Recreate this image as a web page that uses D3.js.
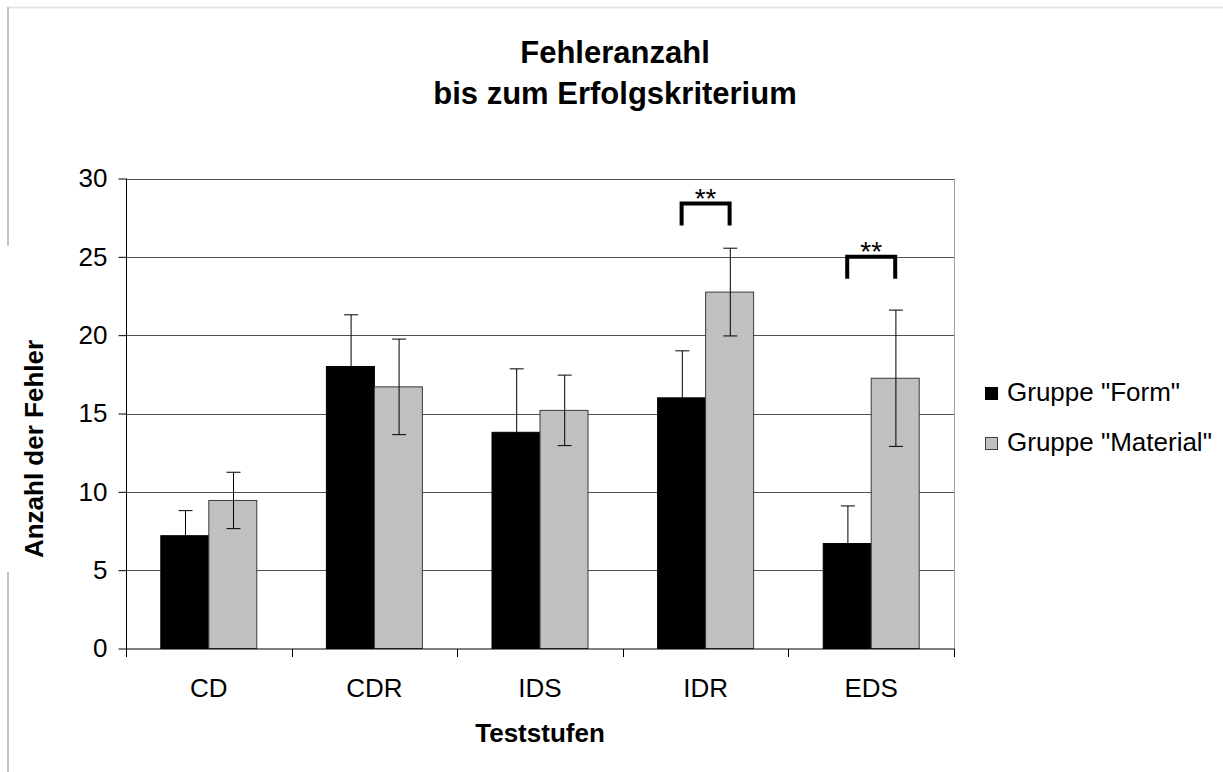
<!DOCTYPE html>
<html>
<head>
<meta charset="utf-8">
<script src="https://cdn.jsdelivr.net/npm/d3@7"></script>
<style>
  html, body { margin: 0; padding: 0; background: #fff; }
  svg { display: block; font-family: "Liberation Sans", Arial, sans-serif; }
</style>
</head>
<body>
<svg id="chart" width="1223" height="772"></svg>
<script>
// Test levels and mean error counts per group
const categories = ["CD", "CDR", "IDS", "IDR", "EDS"];
const seriesNames = ["Gruppe \"Form\"", "Gruppe \"Material\""];
const formValues = [7.2, 18.0, 13.8, 16.0, 6.7];
const formErrors = [1.6, 3.3, 4.05, 3.0, 2.4];
const materialValues = [9.45, 16.7, 15.2, 22.75, 17.25];
const materialErrors = [1.8, 3.05, 2.25, 2.8, 4.35];
const yTicks = [0, 5, 10, 15, 20, 25, 30];

// Significance brackets (between the two groups of a test level)
const sigCategories = ["IDR", "EDS"];
const sigTop = [28.4, 25.0];
const sigBottom = [27.0, 23.6];
const sigLabels = ["**", "**"];

const colors = ["#000000", "#c0c0c0"];

const svg = d3.select("#chart");
const plot = { left: 126, right: 954, top: 178.5, bottom: 648.5 };
const FONT = 26;

// faint frame lines of the surrounding page
svg.append("line").attr("x1", 7).attr("x2", 1223).attr("y1", 7.5).attr("y2", 7.5)
  .attr("stroke", "#e6e6e6").attr("stroke-width", 2);
svg.append("line").attr("x1", 8).attr("x2", 8).attr("y1", 7).attr("y2", 246)
  .attr("stroke", "#c4c4c4").attr("stroke-width", 2);
svg.append("line").attr("x1", 8).attr("x2", 8).attr("y1", 572).attr("y2", 772)
  .attr("stroke", "#c4c4c4").attr("stroke-width", 2);

const x0 = d3.scaleBand().domain(categories).range([plot.left, plot.right]).padding(0);
const x1 = d3.scaleBand().domain([0, 1]).range([0, x0.bandwidth()])
  .paddingInner(0).paddingOuter(0.725);
const y = d3.scaleLinear().domain([0, 30]).range([plot.bottom, plot.top]);

// gridlines
svg.append("g").selectAll("line").data(yTicks.filter(t => t > 0)).join("line")
  .attr("x1", plot.left).attr("x2", plot.right)
  .attr("y1", d => Math.round(y(d)) + 0.5).attr("y2", d => Math.round(y(d)) + 0.5)
  .attr("stroke", "#505050").attr("stroke-width", 1);
// right edge of plot area
svg.append("line").attr("x1", plot.right + 0.5).attr("x2", plot.right + 0.5)
  .attr("y1", plot.top).attr("y2", plot.bottom)
  .attr("stroke", "#a0a0a0").attr("stroke-width", 1);

const rows = categories.map((c, i) => ({
  cat: c,
  vals: [
    { s: 0, v: formValues[i], e: formErrors[i] },
    { s: 1, v: materialValues[i], e: materialErrors[i] }
  ]
}));

const groups = svg.append("g").selectAll("g").data(rows).join("g")
  .attr("transform", d => `translate(${x0(d.cat)},0)`);

groups.selectAll("rect").data(d => d.vals).join("rect")
  .attr("x", d => x1(d.s))
  .attr("y", d => y(d.v))
  .attr("width", x1.bandwidth())
  .attr("height", d => y(0) - y(d.v))
  .attr("fill", d => colors[d.s])
  .attr("stroke", d => d.s === 0 ? "#000" : "#3a3a3a")
  .attr("stroke-width", 1);

// error bars
const capHalf = 7;
const eb = groups.selectAll("g.err").data(d => d.vals).join("g").attr("class", "err")
  .attr("transform", d => `translate(${Math.round(x1(d.s) + x1.bandwidth() / 2) + 0.5},0)`);
eb.append("line").attr("x1", 0).attr("x2", 0)
  .attr("y1", d => y(d.v + d.e)).attr("y2", d => y(d.v - d.e))
  .attr("stroke", "#000").attr("stroke-width", 1);
eb.append("line").attr("x1", -capHalf).attr("x2", capHalf)
  .attr("y1", d => y(d.v + d.e)).attr("y2", d => y(d.v + d.e))
  .attr("stroke", "#000").attr("stroke-width", 1);
eb.append("line").attr("x1", -capHalf).attr("x2", capHalf)
  .attr("y1", d => y(d.v - d.e)).attr("y2", d => y(d.v - d.e))
  .attr("stroke", "#000").attr("stroke-width", 1);

// y axis
const yAxis = d3.axisLeft(y).tickValues(yTicks).tickSize(8).tickPadding(11);
const gy = svg.append("g").attr("transform", `translate(${plot.left + 0.5},0)`).call(yAxis);
gy.select(".domain").attr("stroke", "#000").attr("d", `M0,${plot.top}V${plot.bottom + 8}`);
gy.selectAll(".tick line").attr("stroke", "#000");
gy.selectAll(".tick text").attr("font-size", FONT).attr("fill", "#000")
  .attr("font-family", "Liberation Sans, Arial, sans-serif");

// x axis with ticks at category boundaries
const gx = svg.append("g").attr("transform", `translate(0,${plot.bottom + 0.5})`);
gx.append("line").attr("x1", plot.left).attr("x2", plot.right + 1)
  .attr("y1", 0).attr("y2", 0).attr("stroke", "#000");
const boundaries = categories.map(c => x0(c)).concat([plot.right]);
gx.selectAll("line.tk").data(boundaries).join("line").attr("class", "tk")
  .attr("x1", d => Math.round(d) + 0.5).attr("x2", d => Math.round(d) + 0.5)
  .attr("y1", 0).attr("y2", 8).attr("stroke", "#000");
gx.selectAll("text").data(categories).join("text")
  .attr("x", d => x0(d) + x0.bandwidth() / 2)
  .attr("y", 48)
  .attr("text-anchor", "middle")
  .attr("font-size", FONT)
  .text(d => d);

// significance brackets
sigCategories.forEach((c, i) => {
  const xa = x0(c) + x1(0) + x1.bandwidth() / 2;
  const xb = x0(c) + x1(1) + x1.bandwidth() / 2;
  const yt = y(sigTop[i]), yb = y(sigBottom[i]);
  svg.append("path")
    .attr("d", `M${xa},${yb}V${yt}H${xb}V${yb}`)
    .attr("fill", "none").attr("stroke", "#000").attr("stroke-width", 4)
    .attr("stroke-linejoin", "miter").attr("stroke-linecap", "butt");
  svg.append("text")
    .attr("x", (xa + xb) / 2).attr("y", yt + 4)
    .attr("text-anchor", "middle").attr("font-size", 28)
    .text(sigLabels[i]);
});

// chart title, centred over the whole chart
const title = svg.append("text").attr("text-anchor", "middle")
  .attr("font-weight", "bold").attr("font-size", 31);
title.append("tspan").attr("x", 615).attr("y", 63).text("Fehleranzahl");
title.append("tspan").attr("x", 615).attr("y", 104).text("bis zum Erfolgskriterium");

svg.append("text").attr("x", 540).attr("y", 742).attr("text-anchor", "middle")
  .attr("font-weight", "bold").attr("font-size", FONT).text("Teststufen");

svg.append("text")
  .attr("transform", "translate(43,449) rotate(-90)")
  .attr("text-anchor", "middle")
  .attr("font-weight", "bold").attr("font-size", FONT).text("Anzahl der Fehler");

// legend
const legend = svg.append("g").attr("transform", "translate(985,0)");
const legendY = [393.5, 443.5];
seriesNames.forEach((name, i) => {
  legend.append("rect").attr("x", 0.5).attr("y", legendY[i] - 6)
    .attr("width", 12).attr("height", 12)
    .attr("fill", colors[i]).attr("stroke", i === 0 ? "#000" : "#404040");
  legend.append("text").attr("x", 22).attr("y", legendY[i] + 7)
    .attr("font-size", FONT).text(name);
});
</script>
</body>
</html>
